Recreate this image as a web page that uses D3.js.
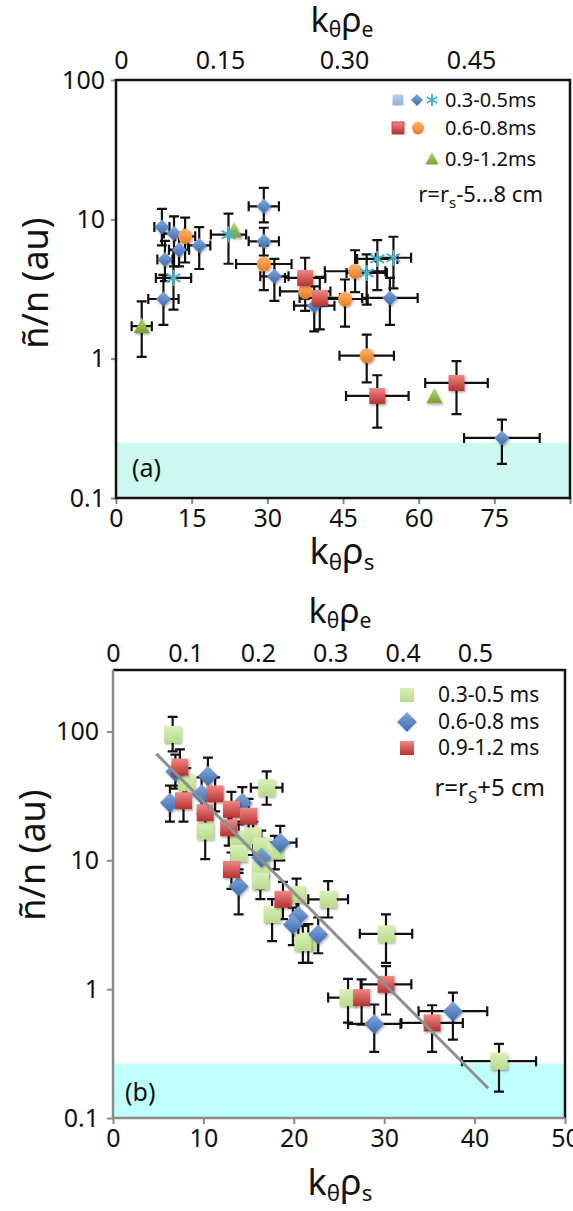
<!DOCTYPE html>
<html>
<head>
<meta charset="utf-8">
<script src="https://cdn.jsdelivr.net/npm/d3@7"></script>
<style>
body{margin:0;background:#fff}
text{font-family:"Noto Sans",sans-serif;fill:#111}
</style>
</head>
<body>
<svg id="chart"></svg>
<script>
// ---------- data, panel (a) ----------
// each point: x, y, xerr, ylow, yhigh
var aTopTicks = [0, 0.15, 0.30, 0.45];
var aBottomTicks = [0, 15, 30, 45, 60, 75, 90];
var aYTicks = [0.1, 1, 10, 100];

var aBlueDiamond = [
  [9.4, 2.68, 3, 1.75, 4.0], [9.7, 5.14, 1.5, 3.6, 7.0], [9.1, 8.8, 1.5, 6.5, 11.9],
  [11.5, 7.9, 2, 4.6, 10.5], [12.5, 6.06, 2, 4.6, 8.0], [16.5, 6.5, 2.2, 4.4, 8.8],
  [29.3, 12.4, 3, 9.5, 16.8], [29.3, 6.95, 3, 5.5, 8.7], [31.4, 3.9, 2.8, 2.6, 5.2],
  [39.3, 2.4, 4, 1.57, 3.3], [54.3, 2.73, 5.5, 1.75, 3.8], [76.5, 0.27, 7.5, 0.176, 0.365]
];
var aCyanStar = [
  [11.4, 3.8, 3.5, 2.25, 6], [22.3, 7.77, 3.5, 4.8, 11], [49.7, 4.12, 4, 2.44, 5.6],
  [51.8, 5.2, 4, 3.1, 7.1], [55.0, 5.3, 3.5, 3.2, 7.5]
];
var aOrangeCircle = [
  [13.7, 7.55, 2, 4.9, 10.3], [29.3, 4.78, 5.5, 3.1, 6.5], [37.5, 3.04, 5, 2.2, 4.0],
  [45.4, 2.68, 4.5, 1.7, 3.7], [47.4, 4.24, 6, 3.0, 6.0], [49.7, 1.05, 5.4, 0.676, 1.49]
];
var aRedSquare = [
  [37.5, 3.8, 4, 2.7, 5.3], [40.4, 2.73, 4, 1.62, 3.86],
  [51.8, 0.54, 6.2, 0.32, 0.76], [67.5, 0.67, 6.2, 0.40, 0.96]
];
var aGreenTriangle = [
  [5.1, 1.71, 2, 1.03, 2.58], [23.4, 8.3, 0, 0, 0], [63.1, 0.536, 0, 0, 0]
];

// ---------- data, panel (b) ----------
var bTopTicks = [0, 0.1, 0.2, 0.3, 0.4, 0.5];
var bBottomTicks = [0, 10, 20, 30, 40, 50];
var bYTicks = [0.1, 1, 10, 100];

var bGreenSquare = [
  [6.6, 95, 0, 70, 130], [8.1, 40, 0, 29, 52], [17.0, 36.6, 1.75, 27, 49],
  [10.2, 16.9, 0, 10.2, 22], [13.9, 14.6, 0, 10.5, 19], [15.5, 15.5, 0, 11, 20],
  [16.4, 12.9, 0, 9, 17], [13.9, 11.3, 0, 8, 15], [17.9, 11.8, 0, 8.5, 15.5],
  [16.3, 8.5, 0, 6, 11], [16.3, 6.9, 0, 5, 9], [20.3, 5.44, 0, 3.8, 7.2],
  [23.8, 4.98, 2.2, 3.6, 6.9], [17.6, 3.8, 0, 2.36, 5], [21.6, 2.36, 0, 1.6, 3.2],
  [21.0, 2.3, 0, 1.6, 3.1], [30.2, 2.69, 2.9, 1.6, 3.8], [26.0, 0.86, 2.2, 0.55, 1.2],
  [42.7, 0.276, 4.1, 0.16, 0.376]
];
var bBlueDiamond = [
  [6.9, 49, 0, 36, 66], [10.5, 45.2, 0, 33, 62.7], [6.3, 28, 0, 20, 38],
  [9.8, 32.5, 0, 23, 44], [14.3, 28, 0, 20, 37], [18.5, 13.7, 1.8, 10, 18.5],
  [16.4, 10.5, 0, 7.5, 14], [13.9, 6.3, 0, 3.8, 8.5], [20.5, 3.7, 0, 2.6, 5],
  [19.9, 3.18, 0, 2.2, 4.3], [22.7, 2.66, 0, 1.9, 3.6], [28.9, 0.537, 2.9, 0.326, 0.76],
  [37.6, 0.675, 3.8, 0.406, 0.94]
];
var bRedSquare = [
  [7.4, 53, 0, 38, 72.6], [7.8, 29, 0, 20, 40], [11.3, 32.8, 0, 24, 44],
  [10.2, 23.4, 0, 17, 32], [13.1, 24.9, 0, 18, 34], [15.0, 22, 0, 16, 30],
  [12.8, 17.9, 0, 13, 24], [13.1, 8.5, 0, 6, 11.5], [18.8, 4.98, 0, 3.5, 6.8],
  [30.2, 1.09, 2.8, 0.636, 1.51], [27.5, 0.86, 0, 0.53, 1.19], [35.3, 0.547, 3.4, 0.326, 0.75]
];
var bFitX = [4.8, 41.5];
var bFitY = [67, 0.17];

var bandLimitA = 0.25;
var bandLimitB = 0.265;

// ---------- setup ----------
var svg = d3.select("#chart").attr("width", 573).attr("height", 1211);
var defs = svg.append("defs");

var grad = function(id, c1, c2)
{
    var g = defs.append("linearGradient").attr("id", id)
        .attr("x1", 0).attr("y1", 0).attr("x2", 0).attr("y2", 1);
    g.append("stop").attr("offset", "0%").attr("stop-color", c1);
    g.append("stop").attr("offset", "100%").attr("stop-color", c2);
}
grad("gBlue", "#86a9dd", "#3b69b0");
grad("gRed", "#ef8a88", "#b9302e");
grad("gOrange", "#fdb670", "#ec7a1c");
grad("gGreen", "#b9d86f", "#7b9f33");
grad("gLime", "#d9f0b8", "#b7db8a");
grad("gPale", "#b9cfea", "#8fb0dc");

var sh = defs.append("filter").attr("id", "shadow")
    .attr("x", "-50%").attr("y", "-50%").attr("width", "200%").attr("height", "200%");
sh.append("feDropShadow").attr("dx", 1).attr("dy", 1.5)
    .attr("stdDeviation", 1.3).attr("flood-color", "#000").attr("flood-opacity", 0.35);

var shapes = {
    square: function(r){ return "M" + (-r) + "," + (-r) + "h" + 2 * r + "v" + 2 * r + "h" + (-2 * r) + "Z"; },
    diamond: function(r){ return "M0," + (-r) + "L" + r + ",0L0," + r + "L" + (-r) + ",0Z"; },
    circle: function(r){ return "M0," + (-r * 1.08) + "A" + r + "," + (r * 1.08) + " 0 1 1 0," + (r * 1.08) + "A" + r + "," + (r * 1.08) + " 0 1 1 0," + (-r * 1.08) + "Z"; },
    triangle: function(r){ return "M0," + (-r) + "L" + (r * 0.95) + "," + (r * 0.8) + "L" + (-r * 0.95) + "," + (r * 0.8) + "Z"; },
    star: function(r){
        var p = "";
        [90, 30, -30].forEach(function(a){
            var c = Math.cos(a * Math.PI / 180) * r, s = Math.sin(a * Math.PI / 180) * r;
            p += "M" + c + "," + (-s) + "L" + (-c) + "," + s;
        });
        return p;
    }
};

var drawErrors = function(g, data, x, y, cap)
{
    g.append("g").selectAll("path")
        .data(data.filter(function(d){ return d[3] > 0; }))
        .enter()
        .append("path")
        .attr("d", function(d)
        {
            var px = x(d[0]), py = y(d[1]);
            var p = "M" + px + "," + y(d[3]) + "V" + y(d[4]) +
                "M" + (px - cap) + "," + y(d[3]) + "h" + 2 * cap +
                "M" + (px - cap) + "," + y(d[4]) + "h" + 2 * cap;
            if (d[2] > 0)
            {
                var x0 = x(d[0] - d[2]), x1 = x(d[0] + d[2]);
                p += "M" + x0 + "," + py + "H" + x1 +
                    "M" + x0 + "," + (py - cap) + "v" + 2 * cap +
                    "M" + x1 + "," + (py - cap) + "v" + 2 * cap;
            }
            return p;
        })
        .attr("fill", "none")
        .attr("stroke", "#111")
        .attr("stroke-width", 2.2);
}

var drawMarks = function(g, data, x, y, shape, r, fill)
{
    g.append("g").selectAll("path")
        .data(data)
        .enter()
        .append("path")
        .attr("transform", function(d){ return "translate(" + x(d[0]) + "," + y(d[1]) + ")"; })
        .attr("d", shapes[shape](r))
        .attr("fill", shape == "star" ? "none" : fill)
        .attr("stroke", shape == "star" ? fill : "none")
        .attr("stroke-width", 2)
        .attr("filter", shape == "star" ? null : "url(#shadow)");
}

var kLabel = function(g, x, y, sub, size)
{
    var t = g.append("text").attr("x", x).attr("y", y)
        .attr("text-anchor", "middle").attr("font-size", size);
    t.append("tspan").text("k");
    t.append("tspan").attr("font-size", size * 0.62).attr("dy", size * 0.16).text("θ");
    t.append("tspan").attr("dy", -size * 0.16).text("ρ");
    t.append("tspan").attr("font-size", size * 0.62).attr("dy", size * 0.16).text(sub);
}

var yTitle = function(g, x, y, size)
{
    g.append("text")
        .attr("transform", "translate(" + x + "," + y + ") rotate(-90)")
        .attr("text-anchor", "middle")
        .attr("font-size", size)
        .text("ñ/n (au)");
}

var styleAxis = function(ax, size, tickColor)
{
    ax.selectAll("text").attr("font-size", size).attr("fill", "#111");
    ax.selectAll("line").attr("stroke", tickColor).attr("stroke-width", 2);
    ax.select(".domain").remove();
}

// ---------- panel (a) ----------
var xA = d3.scaleLinear().domain([0, 90]).range([116, 570]);
var yA = d3.scaleLog().domain([0.1, 100]).range([498, 80]);
var eA = d3.scaleLinear().domain(aTopTicks).range([121, 220, 344, 471]);

var gA = svg.append("g").attr("id", "panelA");

gA.append("rect")
    .attr("x", xA(0)).attr("y", yA(bandLimitA))
    .attr("width", xA(90) - xA(0)).attr("height", yA(0.1) - yA(bandLimitA))
    .attr("fill", "#cdf8ef");

var axA = gA.append("g").attr("transform", "translate(0," + yA(0.1) + ")")
    .call(d3.axisBottom(xA).tickValues(aBottomTicks).tickSize(6).tickPadding(5)
        .tickFormat(function(d){ return d == 90 ? "" : d; }));
styleAxis(axA, 25, "#888");

var ayA = gA.append("g").attr("transform", "translate(" + xA(0) + ",0)")
    .call(d3.axisLeft(yA).tickValues(aYTicks).tickSize(5).tickPadding(6)
        .tickFormat(function(d){ return d; }));
styleAxis(ayA, 25, "#888");

var atA = gA.append("g").attr("transform", "translate(0," + yA(100) + ")")
    .call(d3.axisTop(eA).tickValues(aTopTicks).tickSize(0).tickPadding(11)
        .tickFormat(function(d){ return d == 0 ? "0" : d3.format(".2f")(d); }));
styleAxis(atA, 25, "none");

gA.append("rect")
    .attr("x", xA(0)).attr("y", yA(100))
    .attr("width", xA(90) - xA(0)).attr("height", yA(0.1) - yA(100))
    .attr("fill", "none").attr("stroke", "#111").attr("stroke-width", 2.5);

drawErrors(gA, aBlueDiamond, xA, yA, 5);
drawErrors(gA, aCyanStar, xA, yA, 5);
drawErrors(gA, aOrangeCircle, xA, yA, 5);
drawErrors(gA, aRedSquare, xA, yA, 5);
drawErrors(gA, aGreenTriangle, xA, yA, 5);

drawMarks(gA, aBlueDiamond, xA, yA, "diamond", 7.5, "url(#gBlue)");
drawMarks(gA, aOrangeCircle, xA, yA, "circle", 7, "url(#gOrange)");
drawMarks(gA, aRedSquare, xA, yA, "square", 8, "url(#gRed)");
drawMarks(gA, aGreenTriangle, xA, yA, "triangle", 8.5, "url(#gGreen)");
drawMarks(gA, aCyanStar, xA, yA, "star", 8, "#4bb3c9");

// legend (a)
var legA = gA.append("g");
legA.append("path").attr("transform", "translate(398,100)").attr("d", shapes.square(5.5)).attr("fill", "url(#gPale)");
legA.append("path").attr("transform", "translate(417,100)").attr("d", shapes.diamond(6)).attr("fill", "url(#gBlue)");
legA.append("path").attr("transform", "translate(432,100)").attr("d", shapes.star(6)).attr("fill", "none").attr("stroke", "#4bb3c9").attr("stroke-width", 2);
legA.append("path").attr("transform", "translate(398,128)").attr("d", shapes.square(6)).attr("fill", "url(#gRed)").attr("stroke", "#c43c3a").attr("stroke-width", 1);
legA.append("path").attr("transform", "translate(418,128)").attr("d", shapes.circle(6)).attr("fill", "url(#gOrange)");
legA.append("path").attr("transform", "translate(432,159)").attr("d", shapes.triangle(7)).attr("fill", "url(#gGreen)");
[["0.3-0.5ms", 100], ["0.6-0.8ms", 128], ["0.9-1.2ms", 159]].forEach(function(r){
    legA.append("text").attr("x", 445).attr("y", r[1] + 7).attr("font-size", 20).text(r[0]);
});
var rA = legA.append("text").attr("x", 543).attr("y", 202).attr("text-anchor", "end").attr("font-size", 22);
rA.append("tspan").text("r=r");
rA.append("tspan").attr("font-size", 15).attr("dy", 6).text("s");
rA.append("tspan").attr("dy", -6).text("-5...8 cm");

gA.append("text").attr("x", 132).attr("y", 477).attr("font-size", 25).text("(a)");
kLabel(gA, 342, 564, "s", 36);
kLabel(gA, 342, 32, "e", 34);
yTitle(gA, 48, 283, 36);

// ---------- panel (b) ----------
var xB = d3.scaleLinear().domain([0, 50]).range([113, 565]);
var yB = d3.scaleLog().domain([0.1, 300]).range([1118, 670]);
var eB = d3.scaleLinear().domain([0, 0.5]).range([113, 475]);

var gB = svg.append("g").attr("id", "panelB");

gB.append("rect")
    .attr("x", xB(0)).attr("y", yB(bandLimitB))
    .attr("width", xB(50) - xB(0)).attr("height", yB(0.1) - yB(bandLimitB))
    .attr("fill", "#bffffc");

var axB = gB.append("g").attr("transform", "translate(0," + yB(0.1) + ")")
    .call(d3.axisBottom(xB).tickValues(bBottomTicks).tickSize(6).tickPadding(5));
styleAxis(axB, 25, "#8a8a8a");

var ayB = gB.append("g").attr("transform", "translate(" + xB(0) + ",0)")
    .call(d3.axisLeft(yB).tickValues(bYTicks).tickSize(6).tickPadding(8)
        .tickFormat(function(d){ return d; }));
styleAxis(ayB, 25, "#8a8a8a");

var atB = gB.append("g").attr("transform", "translate(0," + yB.range()[1] + ")")
    .call(d3.axisTop(eB).tickValues(bTopTicks).tickSize(0).tickPadding(8)
        .tickFormat(function(d){ return d == 0 ? "0" : d3.format(".1f")(d); }));
styleAxis(atB, 25, "none");

// box: top and right black, left and bottom grey
gB.append("path")
    .attr("d", "M" + xB(0) + "," + yB.range()[1] + "H" + xB(50) + "V" + yB(0.1))
    .attr("fill", "none").attr("stroke", "#111").attr("stroke-width", 2.5);
gB.append("path")
    .attr("d", "M" + xB(0) + "," + yB.range()[1] + "V" + yB(0.1) + "H" + xB(50))
    .attr("fill", "none").attr("stroke", "#8a8a8a").attr("stroke-width", 2.5);

drawErrors(gB, bGreenSquare, xB, yB, 5);
drawErrors(gB, bBlueDiamond, xB, yB, 5);
drawErrors(gB, bRedSquare, xB, yB, 5);

drawMarks(gB, bGreenSquare, xB, yB, "square", 8.5, "url(#gLime)");
drawMarks(gB, bBlueDiamond, xB, yB, "diamond", 10, "url(#gBlue)");
drawMarks(gB, bRedSquare, xB, yB, "square", 8.5, "url(#gRed)");

gB.append("line")
    .attr("x1", xB(bFitX[0])).attr("y1", yB(bFitY[0]))
    .attr("x2", xB(bFitX[1])).attr("y2", yB(bFitY[1]))
    .attr("stroke", "#8f8f8f").attr("stroke-width", 3);

// legend (b)
var legB = gB.append("g");
legB.append("path").attr("transform", "translate(407,695)").attr("d", shapes.square(7)).attr("fill", "url(#gLime)");
legB.append("path").attr("transform", "translate(407,722)").attr("d", shapes.diamond(10)).attr("fill", "url(#gBlue)");
legB.append("path").attr("transform", "translate(407,748)").attr("d", shapes.square(7)).attr("fill", "url(#gRed)");
[["0.3-0.5 ms", 695], ["0.6-0.8 ms", 722], ["0.9-1.2 ms", 748]].forEach(function(r){
    legB.append("text").attr("x", 438).attr("y", r[1] + 7).attr("font-size", 21).text(r[0]);
});
var rB = legB.append("text").attr("x", 545).attr("y", 796).attr("text-anchor", "end").attr("font-size", 24);
rB.append("tspan").text("r=r");
rB.append("tspan").attr("font-size", 17).attr("dy", 7).text("S");
rB.append("tspan").attr("dy", -7).text("+5 cm");

gB.append("text").attr("x", 125).attr("y", 1101).attr("font-size", 25).text("(b)");
kLabel(gB, 340, 1195, "s", 36);
kLabel(gB, 340, 623, "e", 34);
yTitle(gB, 45, 855, 36);
</script>
</body>
</html>
